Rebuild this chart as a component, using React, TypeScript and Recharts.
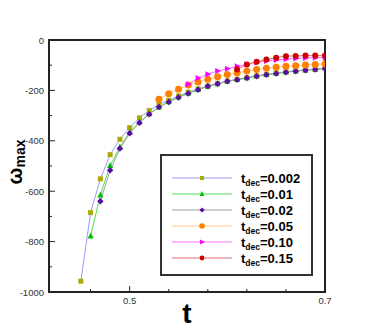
import React from 'react';
import { LineChart, Line, XAxis, YAxis, ReferenceArea } from 'recharts';

// time samples (t), shared by every series
const T = [
  0.45, 0.46, 0.47, 0.48, 0.49, 0.5, 0.51, 0.52, 0.53, 0.54, 0.55, 0.56, 0.57,
  0.58, 0.59, 0.6, 0.61, 0.62, 0.63, 0.64, 0.65, 0.66, 0.67, 0.68, 0.69, 0.7,
];

// omega_max per t_dec (each starts at its own t)
const W_0002 = [
  -957, -685, -551, -455, -394, -348, -309, -280, -256, -239, -222, -207, -194,
  -182, -172, -163, -156, -149, -142, -137, -131, -126, -122, -119, -115, -111,
];
const W_001 = [
  -778, -615, -498, -425, -366, -326, -293, -266, -245, -227, -211, -197,
  -184, -174, -164, -157, -150, -143, -137, -132, -127, -123, -119, -116, -112,
];
const W_002 = [
  -640, -517, -431, -370, -328, -295, -266, -246, -228, -212, -197,
  -184, -174, -164, -158, -151, -144, -138, -133, -128, -124, -120, -117, -113,
];
const W_005 = [
  -235, -213, -195, -179, -167, -156, -146, -137, -130, -123, -117, -112,
  -108, -104, -102, -99, -97, -95,
];
const W_010 = [
  -176, -151, -136, -123, -114, -104, -96, -89, -83, -79, -76, -73, -71, -70, -69,
];
const W_015 = [-117, -97, -86, -77, -70, -64, -63, -62, -62, -62];

const X_TICKS = [0.44, 0.46, 0.48, 0.5, 0.52, 0.54, 0.56, 0.58, 0.6, 0.62, 0.64, 0.66, 0.68, 0.7];
const X_LABELS = [0.5, 0.6, 0.7];
const Y_TICKS = [
  -1000, -950, -900, -850, -800, -750, -700, -650, -600, -550, -500, -450, -400,
  -350, -300, -250, -200, -150, -100, -50, 0,
];
const Y_LABELS = [-1000, -800, -600, -400, -200, 0];

const X_MIN = 0.4174;
const X_MAX = 0.7;
const FONT = '"Liberation Sans", Arial, sans-serif';

const series = [
  { name: '0.002', start: 0, values: W_0002, line: '#9a9aff', marker: '#aaaa00', shape: 'square', size: 5 },
  { name: '0.01', start: 1, values: W_001, line: '#55dd55', marker: '#00c000', shape: 'triangle', size: 6 },
  { name: '0.02', start: 2, values: W_002, line: '#a0a0a0', marker: '#5a0aa8', shape: 'diamond', size: 6.5 },
  { name: '0.05', start: 8, values: W_005, line: '#ffc890', marker: '#ff8000', shape: 'circle', size: 7 },
  { name: '0.10', start: 11, values: W_010, line: '#ff70ff', marker: '#ff00ff', shape: 'rtriangle', size: 6 },
  { name: '0.15', start: 16, values: W_015, line: '#e07070', marker: '#d00000', shape: 'circle', size: 6 },
];

const Marker = ({ cx, cy, shape, color, size }: any) => {
  const s = size;
  if (shape === 'square') {
    return <rect x={cx - s / 2} y={cy - s / 2} width={s} height={s} fill={color} />;
  }
  if (shape === 'triangle') {
    return (
      <polygon
        points={`${cx},${cy - s * 0.6} ${cx - s / 2},${cy + s * 0.4} ${cx + s / 2},${cy + s * 0.4}`}
        fill={color}
      />
    );
  }
  if (shape === 'diamond') {
    return (
      <polygon
        points={`${cx},${cy - s / 2} ${cx + s / 2},${cy} ${cx},${cy + s / 2} ${cx - s / 2},${cy}`}
        fill={color}
      />
    );
  }
  if (shape === 'rtriangle') {
    return (
      <polygon
        points={`${cx + s * 0.6},${cy} ${cx - s * 0.4},${cy - s / 2} ${cx - s * 0.4},${cy + s / 2}`}
        fill={color}
      />
    );
  }
  return <circle cx={cx} cy={cy} r={s / 2} fill={color} />;
};

const makeDot = (shape: string, color: string, size: number) => (props: any) => {
  const { cx, cy, index } = props;
  if (cx == null || cy == null) return <g key={index} />;
  return <Marker key={index} cx={cx} cy={cy} shape={shape} color={color} size={size} />;
};

const XTick = ({ x, y, payload }: any) => {
  const major = X_LABELS.some((v) => Math.abs(v - payload.value) < 1e-6);
  return (
    <g>
      <line x1={x} x2={x} y1={y} y2={y - (major ? 6 : 3)} stroke="#222" strokeWidth={1} />
      {major && (
        <text x={x} y={y + 12} textAnchor="middle" fontSize={9.5} fill="#333" fontFamily={FONT}>
          {payload.value.toFixed(1)}
        </text>
      )}
    </g>
  );
};

const YTick = ({ x, y, payload }: any) => {
  const major = Y_LABELS.includes(payload.value);
  return (
    <g>
      <line x1={x} x2={x + (major ? 6 : 3)} y1={y} y2={y} stroke="#222" strokeWidth={1} />
      {major && (
        <text x={x - 5} y={y + 3.5} textAnchor="end" fontSize={9.5} fill="#333" fontFamily={FONT}>
          {payload.value}
        </text>
      )}
    </g>
  );
};

const XTitle = (props: any) => {
  const { x, width } = props.viewBox;
  return (
    <text x={x + width / 2} y={323} textAnchor="middle" fontSize={28} fontWeight="bold" fill="#000" fontFamily={FONT}>
      t
    </text>
  );
};

const YTitle = () => (
  <text
    x={22}
    y={162}
    transform="rotate(-90, 22, 162)"
    textAnchor="middle"
    fontWeight="bold"
    fill="#000"
    fontFamily={FONT}
  >
    <tspan fontSize={20}>ω</tspan>
    <tspan fontSize={14} dy={3}>max</tspan>
  </text>
);

const LegendBox = () => (
  <div
    style={{
      position: 'absolute',
      left: 160,
      top: 154,
      width: 153,
      height: 122,
      boxSizing: 'border-box',
      border: '2px solid #333',
      background: '#fff',
    }}
  >
    <svg width={149} height={118} style={{ display: 'block' }}>
      {series.map((s, i) => {
        const y = 22 + i * 16;
        return (
          <g key={s.name}>
            <line x1={10} x2={70} y1={y} y2={y} stroke={s.line} strokeWidth={1.2} />
            <Marker cx={40} cy={y} shape={s.shape} color={s.marker} size={s.size * 0.8} />
            <text x={79} y={y + 4.5} fontSize={13} fontWeight="bold" fill="#000" fontFamily={FONT}>
              <tspan>t</tspan>
              <tspan fontSize={8.5} dy={3}>dec</tspan>
              <tspan dy={-3}>={s.name}</tspan>
            </text>
          </g>
        );
      })}
    </svg>
  </div>
);

export default function App() {
  return (
    <div style={{ position: 'absolute', left: 0, top: 0, width: 370, height: 329, background: '#fff' }}>
      <LineChart width={370} height={329} margin={{ top: 40, right: 45, bottom: 0, left: 0 }}>
        <XAxis
          dataKey="t"
          type="number"
          domain={[X_MIN, X_MAX]}
          allowDataOverflow
          ticks={X_TICKS}
          tick={<XTick />}
          tickLine={false}
          tickSize={0}
          tickMargin={0}
          axisLine={false}
          height={37}
          label={<XTitle />}
        />
        <YAxis
          type="number"
          domain={[-1000, 0]}
          allowDataOverflow
          ticks={Y_TICKS}
          tick={<YTick />}
          tickLine={false}
          tickSize={0}
          tickMargin={0}
          axisLine={false}
          width={49}
          label={<YTitle />}
        />
        <ReferenceArea
          x1={X_MIN}
          x2={X_MAX}
          y1={-1000}
          y2={0}
          fill="none"
          stroke="#222"
          strokeWidth={2}
          fillOpacity={0}
          ifOverflow="visible"
        />
        {series.map((s) => (
          <Line
            key={s.name}
            data={s.values.map((w, i) => ({ t: T[s.start + i], w }))}
            dataKey="w"
            type="linear"
            stroke={s.line}
            strokeWidth={1}
            dot={makeDot(s.shape, s.marker, s.size)}
            activeDot={false}
            isAnimationActive={false}
          />
        ))}
      </LineChart>
      <LegendBox />
    </div>
  );
}
